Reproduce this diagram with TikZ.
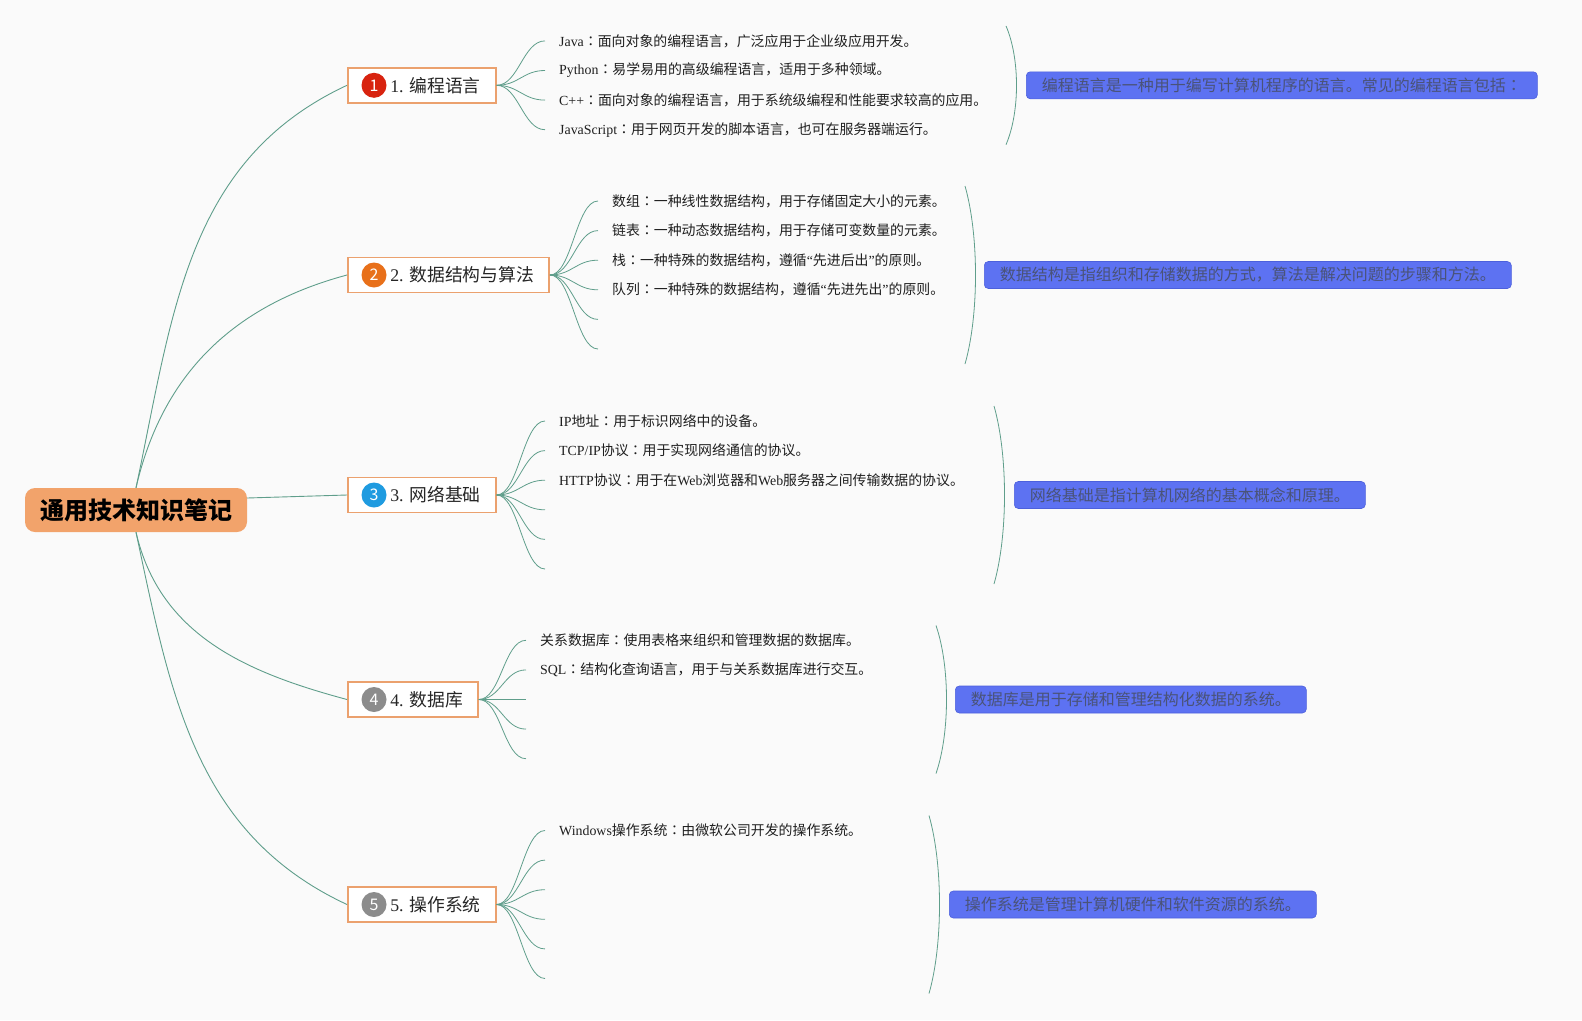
\documentclass[tikz,border=0pt]{standalone}
\usepackage{fontspec}
\setmainfont{Liberation Serif}
\newfontfamily\cjk{Noto Sans CJK SC}
\newfontfamily\cjktc{Noto Sans CJK TC}
\newcommand\fcolon{{\cjktc ：}}
\usepackage{xcolor}
\usepackage{tikz}
\usetikzlibrary{positioning, calc}
\definecolor{PageBg}{HTML}{FAFAFA}
\definecolor{RootFill}{HTML}{F2A36B}
\definecolor{BranchLine}{HTML}{EBA16E}
\definecolor{LinkCol}{HTML}{5F9E8B}
\definecolor{NoteFill}{HTML}{5D72F2}
\definecolor{NoteLine}{HTML}{4C60DC}
\definecolor{NoteText}{HTML}{4A5378}
\definecolor{NumRed}{HTML}{D8230F}
\definecolor{NumOrange}{HTML}{E8701A}
\definecolor{NumBlue}{HTML}{1F9BE0}
\definecolor{NumGrey}{HTML}{8C8C8C}

\tikzset{
  rootbox/.style={fill=RootFill, rounded corners=10pt, inner xsep=15pt,
    minimum height=44pt, text=black, font=\cjk\bfseries\fontsize{24}{28}\selectfont},
  branchbox/.style={draw=BranchLine, line width=1.6pt, fill=white, inner xsep=15pt,
    minimum height=35pt, anchor=west, text=black!85, font=\fontsize{17.8}{21}\selectfont},
  numicon/.style={circle, inner sep=0pt, minimum size=25pt, text=white,
    font=\cjk\fontsize{16}{18}\selectfont},
  leaftext/.style={inner xsep=14pt, inner ysep=0pt, anchor=west, text=black!88,
    font=\fontsize{13.9}{16}\selectfont},
  notebox/.style={fill=NoteFill, draw=NoteLine, line width=0.6pt, rounded corners=4pt,
    inner xsep=15.5pt, minimum height=27pt, anchor=west, text=NoteText,
    font=\cjk\fontsize{16}{19}\selectfont},
  link/.style={draw=LinkCol, line width=0.9pt},
  twig/.style={draw=LinkCol, line width=0.8pt},
}

\begin{document}
\begin{tikzpicture}[x=1pt, y=-1pt]

  %% Page
  \fill[PageBg] (0,0) rectangle (1582,1020);
  \useasboundingbox (0,0) rectangle (1582,1020);

  %% Root
  \node[rootbox] (root) at (136,510) {通用技术知识笔记};

  %% Branches
  \node[branchbox] (b1) at (347,85.3)  {\hspace*{27.5pt}1. {\cjk 编程语言}};
  \node[branchbox] (b2) at (347,275)   {\hspace*{27.5pt}2. {\cjk 数据结构与算法}};
  \node[branchbox] (b3) at (347,495)   {\hspace*{27.5pt}3. {\cjk 网络基础}};
  \node[branchbox] (b4) at (347,699.5) {\hspace*{27.5pt}4. {\cjk 数据库}};
  \node[branchbox] (b5) at (347,904.5) {\hspace*{27.5pt}5. {\cjk 操作系统}};

  %% Number icons
  \foreach \b/\n/\col in {b1/1/NumRed, b2/2/NumOrange, b3/3/NumBlue, b4/4/NumGrey, b5/5/NumGrey}{
    \node[numicon, fill=\col] (i\n) at ($(\b.west)+(27,0)$) {\n};
  }

  %% Root to branches
  \draw[link] (root.north) to[out=78, in=205] (b1.west);
  \draw[link] (root.north) to[out=77, in=195] (b2.west);
  \draw[link] ($(root.east)+(0,-12)$) -- (b3.west);
  \draw[link] (root.south) to[out=-77, in=165] (b4.west);
  \draw[link] (root.south) to[out=-78, in=155] (b5.west);

  %% Twigs: branch / x of end / y of first / count
  \foreach \b/\xe/\yf/\nt in {1/545/40.9/4, 2/598/201/6, 3/545/421/6, 4/526/640.3/5, 5/545/830.5/6}{
    \foreach \i in {1,...,\nt}{
      \coordinate (t\b\i) at (\xe, {\yf+29.6*(\i-1)});
      \draw[twig] (b\b.east) .. controls +(22,0) and +(-22,0) .. (t\b\i);
    }
  }

  %% Leaf texts
  \foreach \tw/\txt in {
    t11/{Java\fcolon{\cjk 面向对象的编程语言，广泛应用于企业级应用开发。}},
    t12/{Python\fcolon{\cjk 易学易用的高级编程语言，适用于多种领域。}},
    t13/{C++\fcolon{\cjk 面向对象的编程语言，用于系统级编程和性能要求较高的应用。}},
    t14/{JavaScript\fcolon{\cjk 用于网页开发的脚本语言，也可在服务器端运行。}},
    t21/{{\cjk 数组}\fcolon{\cjk 一种线性数据结构，用于存储固定大小的元素。}},
    t22/{{\cjk 链表}\fcolon{\cjk 一种动态数据结构，用于存储可变数量的元素。}},
    t23/{{\cjk 栈}\fcolon{\cjk 一种特殊的数据结构，遵循}“{\cjk 先进后出}”{\cjk 的原则。}},
    t24/{{\cjk 队列}\fcolon{\cjk 一种特殊的数据结构，遵循}“{\cjk 先进先出}”{\cjk 的原则。}},
    t31/{IP{\cjk 地址}\fcolon{\cjk 用于标识网络中的设备。}},
    t32/{TCP/IP{\cjk 协议}\fcolon{\cjk 用于实现网络通信的协议。}},
    t33/{HTTP{\cjk 协议}\fcolon{\cjk 用于在}Web{\cjk 浏览器和}Web{\cjk 服务器之间传输数据的协议。}},
    t41/{{\cjk 关系数据库}\fcolon{\cjk 使用表格来组织和管理数据的数据库。}},
    t42/{SQL\fcolon{\cjk 结构化查询语言，用于与关系数据库进行交互。}},
    t51/{Windows{\cjk 操作系统}\fcolon{\cjk 由微软公司开发的操作系统。}}
  }{
    \node[leaftext] (n\tw) at (\tw) {\txt};
  }

  %% Summary braces: x of ends / y centre / half height
  \foreach \xb/\yc/\h in {1006/85.3/59.4, 965/275/89, 994/495/89, 936/699.5/74, 929/904.5/89}{
    \draw[twig] (\xb,{\yc-\h}) .. controls ({\xb+14},{\yc-0.45*\h}) and ({\xb+14},{\yc+0.45*\h}) .. (\xb,{\yc+\h});
  }

  %% Summaries
  \node[notebox] (s1) at (1026,85.3)  {编程语言是一种用于编写计算机程序的语言。常见的编程语言包括\fcolon};
  \node[notebox] (s2) at (984,275)    {数据结构是指组织和存储数据的方式，算法是解决问题的步骤和方法。};
  \node[notebox] (s3) at (1014,495)   {网络基础是指计算机网络的基本概念和原理。};
  \node[notebox] (s4) at (955,699.5)  {数据库是用于存储和管理结构化数据的系统。};
  \node[notebox] (s5) at (949,904.5)  {操作系统是管理计算机硬件和软件资源的系统。};

\end{tikzpicture}
\end{document}
